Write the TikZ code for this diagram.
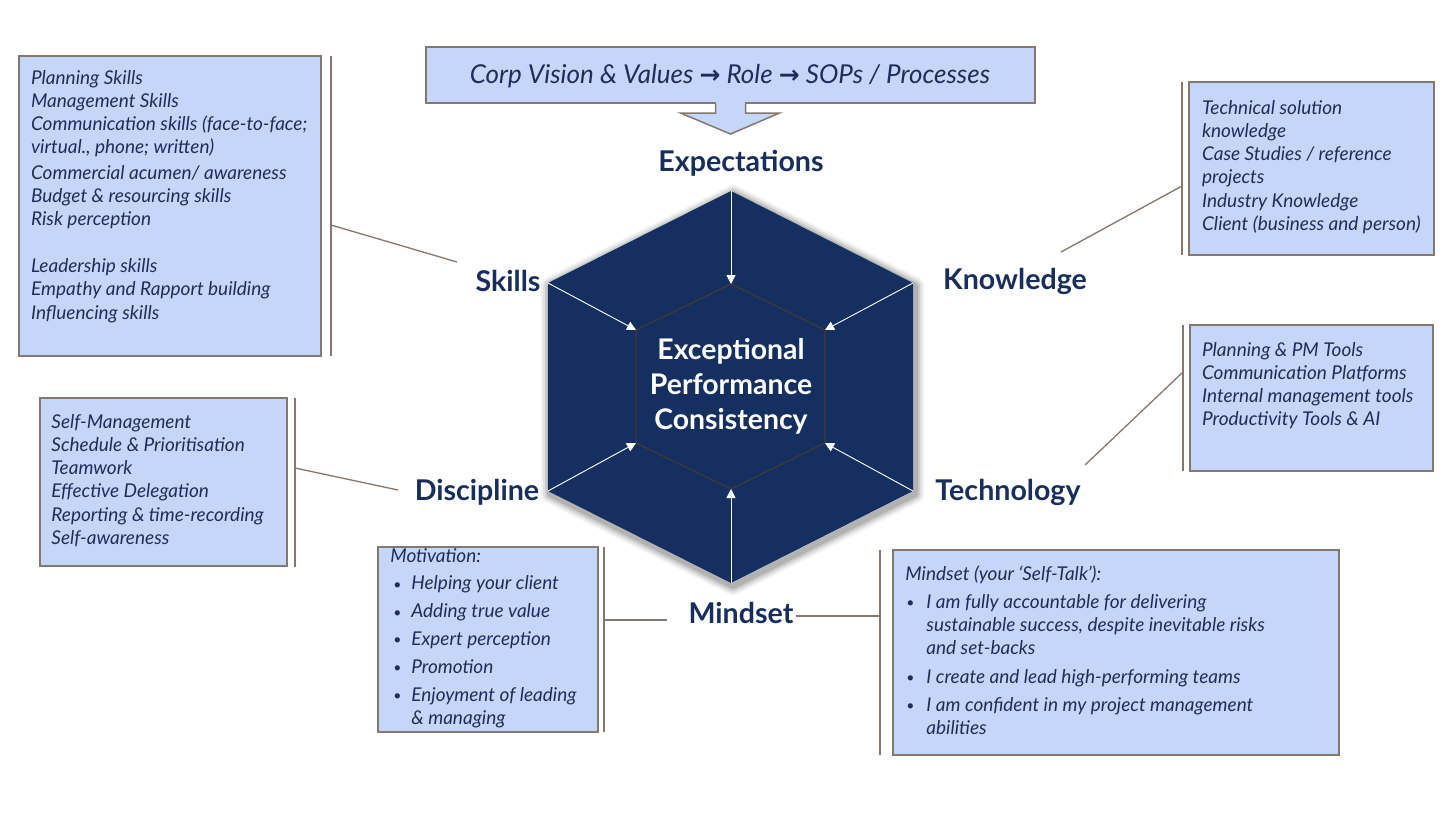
\documentclass[tikz,border=0pt]{standalone}
\usepackage{fontspec}
\setmainfont{Lato}
\newfontfamily\arrowfont{DejaVu Sans}
\usetikzlibrary{arrows.meta,calc}
\definecolor{boxfill}{RGB}{196,215,250}
\definecolor{boxline}{RGB}{133,120,110}
\definecolor{txtcol}{RGB}{31,45,90}
\definecolor{labcol}{RGB}{24,47,94}
\definecolor{hexfill}{RGB}{21,48,96}
\definecolor{hexedge}{RGB}{70,55,50}
\tikzset{
  infobox/.style={draw=boxline, line width=0.75pt, fill=boxfill, inner sep=0pt, outer sep=0pt},
  infotext/.style={anchor=base west, inner sep=0pt, text=txtcol,
    font=\fontsize{9.5}{11.65}\selectfont\itshape},
  biglabel/.style={text=labcol, inner sep=1pt, font=\fontsize{14.3}{17}\selectfont\bfseries},
  bracket/.style={draw=boxline, line width=1pt},
  conn/.style={draw=boxline, line width=0.65pt},
  hexarrow/.style={draw=white, line width=0.45pt, -{Triangle[length=4.5pt,width=4.5pt]}},
}
\newcommand{\bul}[1]{\makebox[#1][l]{\raisebox{0.4pt}{\fontsize{7}{8}\selectfont\upshape\textbullet}}}
\newcommand{\lines}[1]{\begin{tabular}[t]{@{}l@{}}#1\end{tabular}}
\begin{document}
\begin{tikzpicture}[x=0.5pt,y=-0.5pt]
\useasboundingbox (0,0) rectangle (1456,819);
\fill[white] (0,0) rectangle (1456,819);

% ---------- hexagon ----------
\coordinate (O1) at (731,191);
\coordinate (O2) at (913,283);
\coordinate (O3) at (913,491);
\coordinate (O4) at (731,583);
\coordinate (O5) at (548,491);
\coordinate (O6) at (548,283);
\coordinate (I1) at (731,284);
\coordinate (I2) at (825,330);
\coordinate (I3) at (825,443);
\coordinate (I4) at (731,489);
\coordinate (I5) at (636,443);
\coordinate (I6) at (636,330);
\foreach \w/\o in {9/0.05,7/0.07,5/0.09,3/0.12}
  \draw[black, opacity=\o, line width=\w pt, line join=round] ($(O1)+(2,3)$) -- ($(O2)+(2,3)$) -- ($(O3)+(2,3)$) -- ($(O4)+(2,3)$) -- ($(O5)+(2,3)$) -- ($(O6)+(2,3)$) -- cycle;
\fill[hexfill] (O1) -- (O2) -- (O3) -- (O4) -- (O5) -- (O6) -- cycle;
\draw[hexedge, line width=0.6pt] (I1) -- (I2) -- (I3) -- (I4) -- (I5) -- (I6) -- cycle;
\foreach \k in {1,...,6} \draw[hexarrow] (O\k) -- (I\k);
\node[text=white, align=center, font=\fontsize{14.2}{17.5}\selectfont\bfseries] (core) at (731,386)
  {Exceptional\\Performance\\Consistency};

% ---------- labels ----------
\node[biglabel] (lexp) at (741,163) {Expectations};
\node[biglabel] (lski) at (508,281) {Skills};
\node[biglabel] (lkno) at (1015,281) {Knowledge};
\node[biglabel] (ldis) at (477,492) {Discipline};
\node[biglabel] (ltec) at (1008,492) {Technology};
\node[biglabel] (lmin) at (741,613) {Mindset};

% ---------- top box ----------
\node[infobox, minimum width=304.5pt, minimum height=28pt] (top) at (730.5,75) {};
\node[text=txtcol, inner sep=0pt, font=\fontsize{13}{15}\selectfont\itshape] (toptxt) at (730,76)
  {Corp Vision \& Values {\arrowfont\fontsize{12.5}{14}\selectfont\bfseries →} Role {\arrowfont\fontsize{12.5}{14}\selectfont\bfseries →} SOPs / Processes};
\draw[draw=boxline, line width=0.75pt, fill=boxfill]
  ($(top.south)+(-15,0)$) -- ($(top.south)+(-15,10)$) -- ($(top.south)+(-50,10)$)
  -- ($(top.south)+(0,31)$) -- ($(top.south)+(49,10)$) -- ($(top.south)+(15,10)$) -- ($(top.south)+(15,0)$);
\draw[boxfill, line width=1pt] ($(top.south)+(-14.4,-0.5)$) -- ($(top.south)+(14.4,-0.5)$);

% ---------- Skills ----------
\node[infobox, minimum width=151pt, minimum height=150pt] (skbox) at (170,206) {};
\node[infotext] (sktxt) at (30.7,84) {\lines{Planning Skills\\Management Skills\\Communication skills (face-to-face;\\virtual., phone; written)\\[1pt]Commercial acumen/ awareness\\Budget \& resourcing skills\\Risk perception\\~\\Leadership skills\\Empathy and Rapport building\\Influencing skills}};
\coordinate (skT) at (331,56);
\coordinate (skB) at (331,356);
\coordinate (skC) at (331,225);
\coordinate (skE) at (457,262);
\draw[bracket] (skT) -- (skB);
\draw[conn] (skC) -- (skE);

% ---------- Knowledge ----------
\node[infobox, minimum width=122.5pt, minimum height=86.5pt] (knbox) at (1311.5,168.5) {};
\node[infotext] (kntxt) at (1201.7,114) {\lines{Technical solution\\knowledge\\Case Studies / reference\\projects\\Industry Knowledge\\Client (business and person)}};
\coordinate (knT) at (1182,82);
\coordinate (knB) at (1182,255);
\coordinate (knC) at (1182,186);
\coordinate (knE) at (1061,252);
\draw[bracket] (knT) -- (knB);
\draw[conn] (knC) -- (knE);

% ---------- Technology ----------
\node[infobox, minimum width=121.5pt, minimum height=73pt] (tebox) at (1311.5,398) {};
\node[infotext] (tetxt) at (1201.7,356) {\lines{Planning \& PM Tools\\Communication Platforms\\Internal management tools\\Productivity Tools \& AI}};
\coordinate (teT) at (1183,325);
\coordinate (teB) at (1183,471);
\coordinate (teC) at (1183,372);
\coordinate (teE) at (1085,465);
\draw[bracket] (teT) -- (teB);
\draw[conn] (teC) -- (teE);

% ---------- Discipline ----------
\node[infobox, minimum width=123.5pt, minimum height=84pt] (dibox) at (163.5,482) {};
\node[infotext] (ditxt) at (51,428) {\lines{Self-Management\\Schedule \& Prioritisation\\Teamwork\\Effective Delegation\\Reporting \& time-recording\\Self-awareness}};
\coordinate (diT) at (295,398);
\coordinate (diB) at (295,567);
\coordinate (diC) at (295,468);
\coordinate (diE) at (398,490);
\draw[bracket] (diT) -- (diB);
\draw[conn] (diC) -- (diE);

% ---------- Motivation ----------
\node[infobox, minimum width=110pt, minimum height=92.5pt] (mobox) at (488,639.5) {};
\node[infotext] (motxt) at (390,562) {\lines{Motivation:\\[2.3pt]
  \hspace*{1.5pt}\bul{9pt}Helping your client\\[2.3pt]
  \hspace*{1.5pt}\bul{9pt}Adding true value\\[2.3pt]
  \hspace*{1.5pt}\bul{9pt}Expert perception\\[2.3pt]
  \hspace*{1.5pt}\bul{9pt}Promotion\\[2.3pt]
  \hspace*{1.5pt}\bul{9pt}Enjoyment of leading\\
  \hspace*{10.5pt}\& managing}};
\coordinate (moT) at (604,547);
\coordinate (moB) at (604,732);
\coordinate (moC) at (604,620);
\coordinate (moE) at (667,620);
\draw[bracket] (moT) -- (moB);
\draw[conn] (moC) -- (moE);

% ---------- Mindset ----------
\node[infobox, minimum width=223pt, minimum height=102.5pt] (mibox) at (1116,652.5) {};
\node[infotext] (mitxt) at (905,580) {\lines{Mindset (your ‘Self-Talk’):\\[2.5pt]
  \hspace*{0.5pt}\bul{10pt}I am fully accountable for delivering\\
  \hspace*{10.5pt}sustainable success, despite inevitable risks\\
  \hspace*{10.5pt}and set-backs\\[2.5pt]
  \hspace*{0.5pt}\bul{10pt}I create and lead high-performing teams\\[2.5pt]
  \hspace*{0.5pt}\bul{10pt}I am confident in my project management\\
  \hspace*{10.5pt}abilities}};
\coordinate (miT) at (880,550);
\coordinate (miB) at (880,755);
\coordinate (miC) at (880,616);
\draw[bracket] (miT) -- (miB);
\draw[conn] (lmin.east |- miC) -- (miC);
\end{tikzpicture}
\end{document}
